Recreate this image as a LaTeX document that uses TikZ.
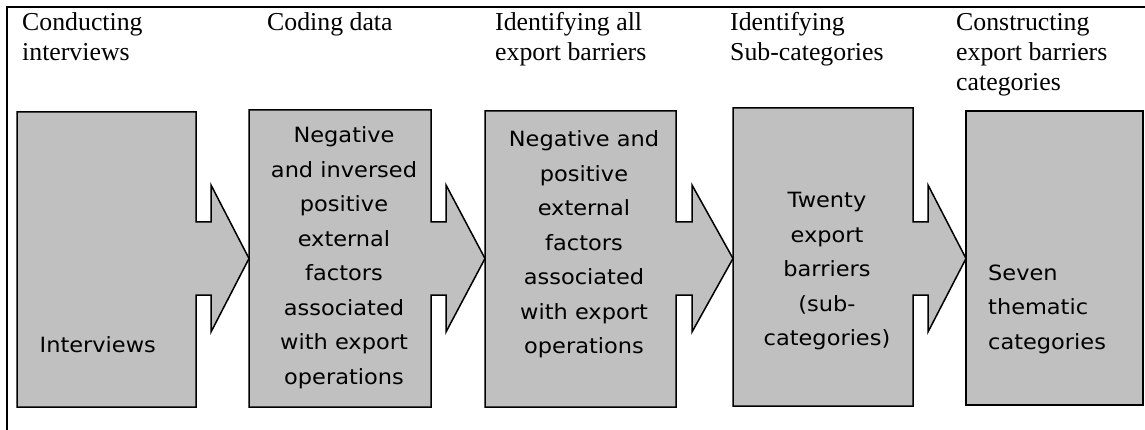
\documentclass[tikz,border=0pt]{standalone}
\usepackage{fontspec}
\setmainfont{Liberation Serif}
\newfontfamily\boxfont{DejaVu Sans}
\usepackage{graphicx}
\definecolor{boxgrey}{RGB}{192,192,192}
\tikzset{
  head/.style={anchor=base west, inner sep=0pt, font=\fontsize{25.8}{29.7}\selectfont},
  boxtxt/.style={inner sep=0pt, font=\boxfont\fontsize{21}{34.5}\selectfont},
  shapebox/.style={draw=black, fill=boxgrey, line width=1.5pt, line join=miter},
  frameline/.style={draw=black, line width=2pt},
}
\newcommand\stretchtxt[2]{\scalebox{1.07}[1]{\begin{tabular}[t]{@{}#1@{}}#2\end{tabular}}}
\newcommand\headtxt[1]{\begin{tabular}[t]{@{}l@{}}#1\end{tabular}}
% xl, xr, notch x, tip x, top, bottom
\newcommand\drawcallout[6]{%
  \draw[shapebox] (#1,#5) -- (#2,#5) -- (#2,222) -- (#3,222) -- (#3,185) -- (#4,258.5)
    -- (#3,332) -- (#3,295) -- (#2,295) -- (#2,#6) -- (#1,#6) -- cycle;}
\begin{document}
\begin{tikzpicture}[x=1pt,y=-1pt]
\useasboundingbox (0,0) rectangle (1145,430);
% frame
\draw[frameline] (7,430) -- (7,7) -- (1146,7);
% headings
\node[head] (h1) at (22,31) {\headtxt{Conducting\\interviews}};
\node[head] (h2) at (267,31) {\headtxt{Coding data}};
\node[head] (h3) at (495,31) {\headtxt{Identifying all\\export barriers}};
\node[head] (h4) at (730,31) {\headtxt{Identifying\\Sub-categories}};
\node[head] (h5) at (956,31) {\headtxt{Constructing\\export barriers\\categories}};
% shapes
\drawcallout{17}{196}{211}{249}{112}{407}
\drawcallout{249}{431}{446}{485}{110}{407}
\drawcallout{485}{676}{692}{733}{111}{407}
\drawcallout{733}{913}{928}{966}{108}{406}
\draw[shapebox] (966,111) rectangle (1143,405);
% box texts
\node[boxtxt, anchor=base west] (t1) at (39.5,352) {\stretchtxt{l}{Interviews}};
\node[boxtxt, anchor=base] (t2) at (344,143) {\stretchtxt{c}{Negative\\and inversed\\positive\\external\\factors\\associated\\with export\\operations}};
\node[boxtxt, anchor=base] (t3) at (584,147) {\stretchtxt{c}{Negative and\\positive\\external\\factors\\associated\\with export\\operations}};
\node[boxtxt, anchor=base] (t4) at (827,208) {\stretchtxt{c}{Twenty\\export\\barriers\\(sub-\\categories)}};
\node[boxtxt, anchor=base west] (t5) at (988,280) {\stretchtxt{l}{Seven\\thematic\\categories}};
\end{tikzpicture}
\end{document}
